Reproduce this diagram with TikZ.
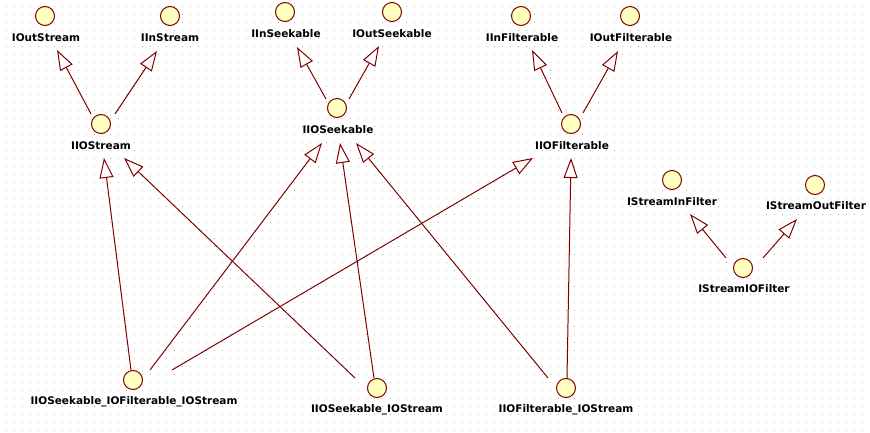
\documentclass[tikz,border=0pt]{standalone}
\usepackage{fontspec}
\setmainfont{DejaVu Sans}
\usetikzlibrary{arrows.meta}
\definecolor{umlred}{RGB}{128,0,0}
\definecolor{umlfill}{RGB}{255,255,192}
\definecolor{gridc}{RGB}{180,180,180}
\tikzset{
  iface/.style={circle, draw=umlred, fill=umlfill, line width=1pt, minimum size=19pt, inner sep=0pt},
  lbl/.style={font=\fontsize{10.5}{12}\selectfont\bfseries, text=black, inner sep=0pt},
  inh/.style={draw=umlred, line width=1pt, -{Triangle[length=20pt,width=14pt,fill=white]}},
}
\begin{document}
\begin{tikzpicture}[x=1pt,y=-1pt]
\useasboundingbox (0,0) rectangle (870,433);
\fill[white] (0,0) rectangle (870,433);
\foreach \x in {6,14,...,870} {\foreach \y in {6,14,...,433} {\fill[gridc] (\x,\y) rectangle ++(1,1);}}

% interfaces
\node[iface] (IOutStream) at (45,16) {};
\node[iface] (IInStream) at (170,16) {};
\node[iface] (IIOStream) at (101,124) {};
\node[iface] (IInSeekable) at (285,12) {};
\node[iface] (IOutSeekable) at (392,12) {};
\node[iface] (IIOSeekable) at (337,108) {};
\node[iface] (IInFilterable) at (521,16) {};
\node[iface] (IOutFilterable) at (630,16) {};
\node[iface] (IIOFilterable) at (571,124) {};
\node[iface] (IStreamInFilter) at (672,180) {};
\node[iface] (IStreamOutFilter) at (815,185) {};
\node[iface] (IStreamIOFilter) at (743,268) {};
\node[iface] (IIOSFS) at (133,380) {};
\node[iface] (IIOSS) at (377,388) {};
\node[iface] (IIOFS) at (566,388) {};

% labels
\node[lbl] (IOutStream-l) at ([shift={(1,22)}]IOutStream.center) {IOutStream};
\node[lbl] (IInStream-l) at ([shift={(0,22)}]IInStream.center) {IInStream};
\node[lbl] (IIOStream-l) at ([shift={(0,22)}]IIOStream.center) {IIOStream};
\node[lbl] (IInSeekable-l) at ([shift={(1,22)}]IInSeekable.center) {IInSeekable};
\node[lbl] (IOutSeekable-l) at ([shift={(0,22)}]IOutSeekable.center) {IOutSeekable};
\node[lbl] (IIOSeekable-l) at ([shift={(1,22)}]IIOSeekable.center) {IIOSeekable};
\node[lbl] (IInFilterable-l) at ([shift={(1,22)}]IInFilterable.center) {IInFilterable};
\node[lbl] (IOutFilterable-l) at ([shift={(1,22)}]IOutFilterable.center) {IOutFilterable};
\node[lbl] (IIOFilterable-l) at ([shift={(1,22)}]IIOFilterable.center) {IIOFilterable};
\node[lbl] (IStreamInFilter-l) at ([shift={(0,22)}]IStreamInFilter.center) {IStreamInFilter};
\node[lbl] (IStreamOutFilter-l) at ([shift={(1,21)}]IStreamOutFilter.center) {IStreamOutFilter};
\node[lbl] (IStreamIOFilter-l) at ([shift={(1,21)}]IStreamIOFilter.center) {IStreamIOFilter};
\node[lbl] (IIOSFS-l) at ([shift={(1,22)}]IIOSFS.center) {IIOSeekable\_IOFilterable\_IOStream};
\node[lbl] (IIOSS-l) at ([shift={(0,22)}]IIOSS.center) {IIOSeekable\_IOStream};
\node[lbl] (IIOFS-l) at ([shift={(0,22)}]IIOFS.center) {IIOFilterable\_IOStream};

% generalizations
\draw[inh] ([shift={(-10,-10)}]IIOStream.center) -- ([shift={(12,34)}]IOutStream.center);
\draw[inh] ([shift={(14,-10)}]IIOStream.center) -- ([shift={(-13,35)}]IInStream.center);
\draw[inh] ([shift={(-11,-9)}]IIOSeekable.center) -- ([shift={(12,35)}]IInSeekable.center);
\draw[inh] ([shift={(12,-9)}]IIOSeekable.center) -- ([shift={(-13,34)}]IOutSeekable.center);
\draw[inh] ([shift={(-9,-11)}]IIOFilterable.center) -- ([shift={(11,34)}]IInFilterable.center);
\draw[inh] ([shift={(12,-11)}]IIOFilterable.center) -- ([shift={(-12,35)}]IOutFilterable.center);
\draw[inh] ([shift={(-17,-10)}]IStreamIOFilter.center) -- ([shift={(18,34)}]IStreamInFilter.center);
\draw[inh] ([shift={(20,-10)}]IStreamIOFilter.center) -- ([shift={(-18,34)}]IStreamOutFilter.center);
\draw[inh] ([shift={(-2,-10)}]IIOSFS.center) -- ([shift={(3,34)}]IIOStream.center);
\draw[inh] ([shift={(17,-10)}]IIOSFS.center) -- ([shift={(-15,35)}]IIOSeekable.center);
\draw[inh] ([shift={(39,-10)}]IIOSFS.center) -- ([shift={(-38,34)}]IIOFilterable.center);
\draw[inh] ([shift={(-22,-10)}]IIOSS.center) -- ([shift={(23,34)}]IIOStream.center);
\draw[inh] ([shift={(-3,-10)}]IIOSS.center) -- ([shift={(3,35)}]IIOSeekable.center);
\draw[inh] ([shift={(-18,-10)}]IIOFS.center) -- ([shift={(19,35)}]IIOSeekable.center);
\draw[inh] ([shift={(1,-10)}]IIOFS.center) -- ([shift={(0,34)}]IIOFilterable.center);
\end{tikzpicture}
\end{document}
